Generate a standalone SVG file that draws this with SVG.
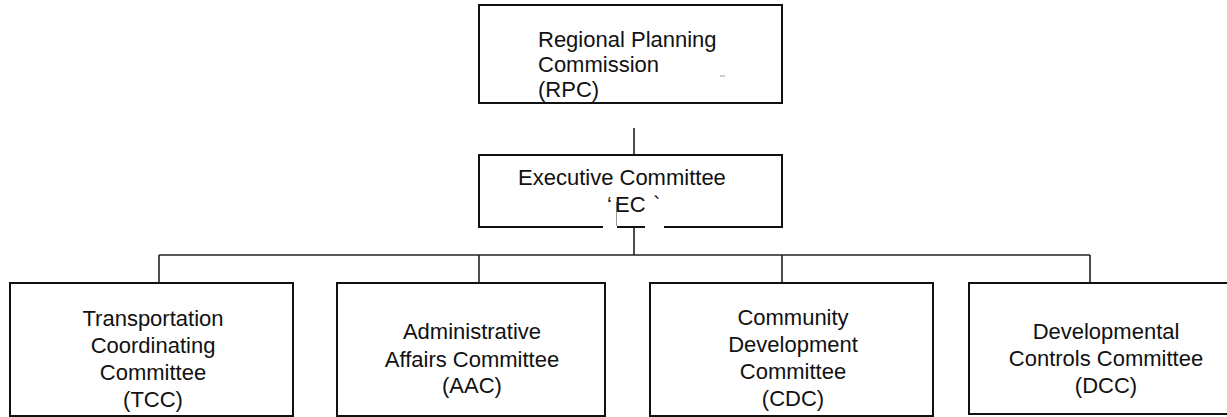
<svg xmlns="http://www.w3.org/2000/svg" width="1227" height="417" viewBox="0 0 1227 417">
<style>
.box{fill:#fff;stroke:#111;stroke-width:2}
.edge{fill:none;stroke:#222;stroke-width:1.6}
.t{font-family:"Liberation Sans",Arial,sans-serif;font-size:22px;fill:#111}
.c{text-anchor:middle}
</style>
<rect width="1227" height="417" fill="#fff"/>
<g id="connectors">
<line class="edge" x1="634" y1="128" x2="634" y2="155"/>
<line class="edge" x1="634" y1="226" x2="634" y2="255"/>
<line class="edge" x1="159" y1="255" x2="1090" y2="255"/>
<line class="edge" x1="159" y1="255" x2="159" y2="283"/>
<line class="edge" x1="479" y1="255" x2="479" y2="283"/>
<line class="edge" x1="782" y1="255" x2="782" y2="283"/>
<line class="edge" x1="1090" y1="255" x2="1090" y2="283"/>
</g>
<g id="rpc">
<rect class="box" x="479" y="5" width="303" height="98"/>
<text class="t" x="538" y="47">Regional Planning</text>
<text class="t" x="538" y="72">Commission</text>
<text class="t" x="538" y="97">(RPC)</text>
<line x1="720" y1="76" x2="725" y2="76" stroke="#999" stroke-width="1"/>
</g>
<g id="ec">
<path class="box" d="M603 227 H479 V155 H782 V227 H664"/>
<line x1="617" y1="227" x2="645" y2="227" stroke="#111" stroke-width="2"/>
<line x1="616.5" y1="202" x2="616.5" y2="226" stroke="#999" stroke-width="1"/>
<text class="t" x="518" y="185">Executive Committee</text>
<text class="t" y="212"><tspan x="607">‘</tspan><tspan x="615">EC</tspan><tspan x="653">`</tspan></text>
</g>
<g id="tcc">
<rect class="box" x="10" y="283" width="283" height="133"/>
<text class="t c" x="153" y="326">Transportation</text>
<text class="t c" x="153" y="353">Coordinating</text>
<text class="t c" x="153" y="380">Committee</text>
<text class="t c" x="153" y="407">(TCC)</text>
</g>
<g id="aac">
<rect class="box" x="337" y="283" width="268" height="133"/>
<text class="t c" x="472" y="339">Administrative</text>
<text class="t c" x="472" y="367">Affairs Committee</text>
<text class="t c" x="472" y="393">(AAC)</text>
</g>
<g id="cdc">
<rect class="box" x="650" y="283" width="283" height="133"/>
<text class="t c" x="793" y="325">Community</text>
<text class="t c" x="793" y="352">Development</text>
<text class="t c" x="793" y="379">Committee</text>
<text class="t c" x="793" y="406">(CDC)</text>
</g>
<g id="dcc">
<rect class="box" x="969" y="283" width="276" height="131"/>
<text class="t c" x="1106" y="339">Developmental</text>
<text class="t c" x="1106" y="366">Controls Committee</text>
<text class="t c" x="1106" y="393">(DCC)</text>
</g>
</svg>
